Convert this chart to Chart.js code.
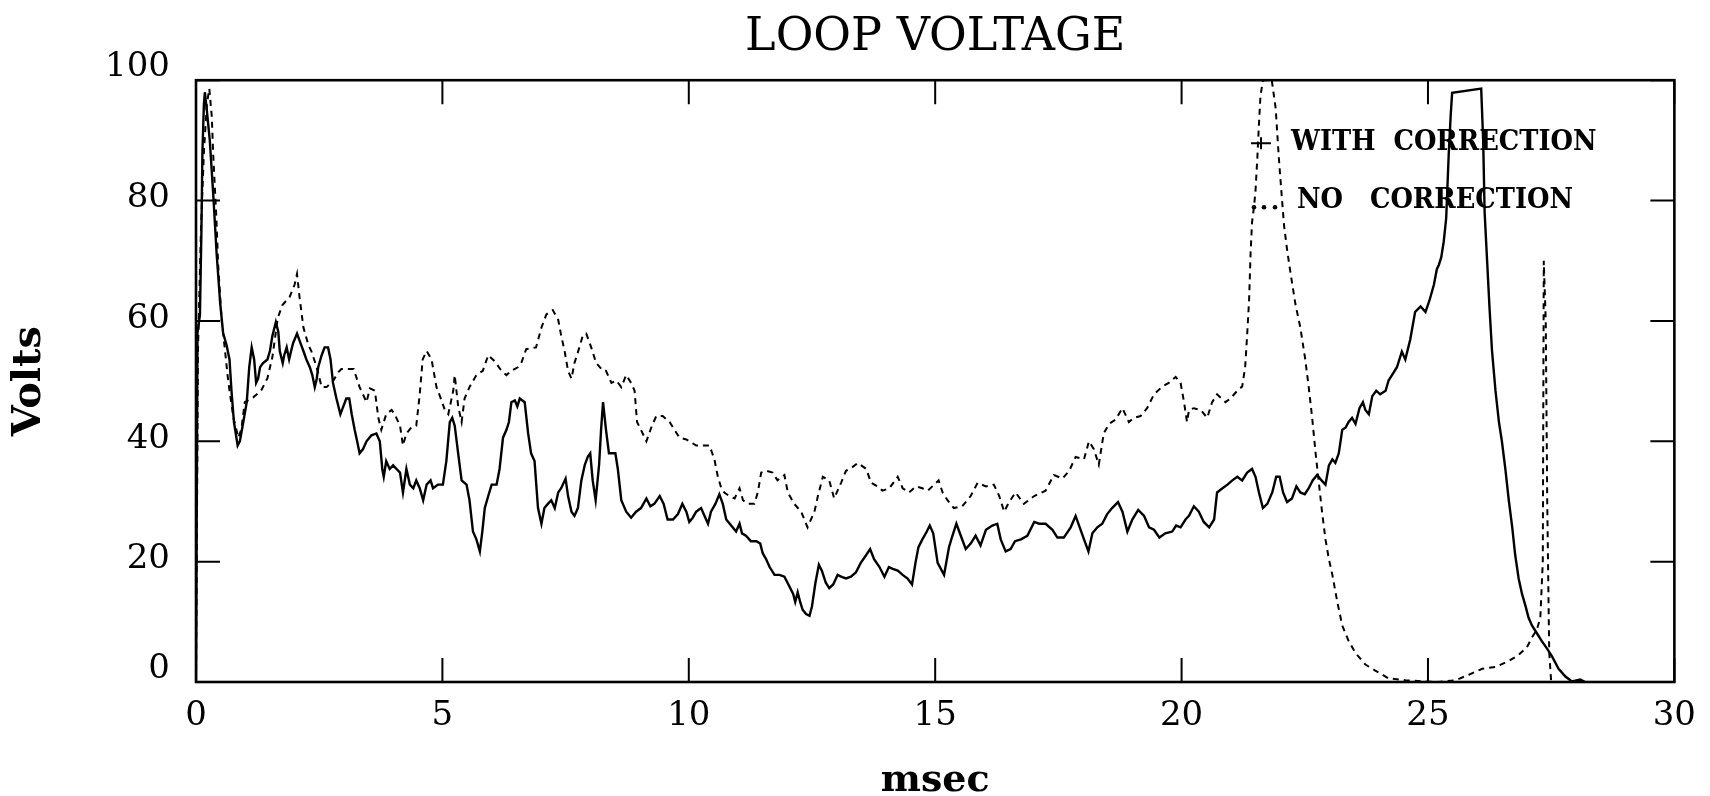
<!DOCTYPE html>
<html>
<head>
<meta charset="utf-8">
<script src="https://cdn.jsdelivr.net/npm/chart.js@4.4.1/dist/chart.umd.min.js"></script>
<style>
  html, body { margin: 0; padding: 0; background: #fff; }
  #wrap { width: 1710px; height: 796px; }
</style>
</head>
<body>
<div id="wrap"><canvas id="c" width="1710" height="796"></canvas></div>
<script>
// ---------- DATA ----------
const xTicks = [0, 5, 10, 15, 20, 25, 30];
const yTicks = [0, 20, 40, 60, 80, 100];
const seriesLabels = ['WITH  CORRECTION', 'NO   CORRECTION'];

// WITH CORRECTION (solid line): time in msec, loop voltage in volts
const withT = [0.00,0.03,0.08,0.11,0.13,0.16,0.18,0.22,0.28,0.35,0.42,0.49,0.55,0.62,0.68,0.72,0.77,0.845,0.89,0.96,
1.03,1.08,1.13,1.18,1.22,1.26,1.30,1.36,1.45,1.50,1.55,1.62,1.67,1.70,1.76,1.79,1.84,1.89,1.93,1.97,
2.05,2.12,2.18,2.24,2.31,2.36,2.41,2.45,2.48,2.55,2.61,2.68,2.73,2.78,2.85,2.93,2.99,3.05,3.11,3.16,
3.22,3.27,3.32,3.39,3.46,3.56,3.66,3.73,3.78,3.81,3.86,3.93,4.00,4.07,4.14,4.20,4.27,4.34,4.41,4.47,
4.54,4.61,4.68,4.76,4.81,4.91,5.01,5.08,5.15,5.20,5.25,5.32,5.39,5.49,5.55,5.62,5.69,5.76,5.81,5.86,
5.93,6.00,6.10,6.16,6.23,6.30,6.35,6.40,6.47,6.52,6.57,6.67,6.74,6.80,6.87,6.94,7.01,7.07,7.14,7.21,
7.28,7.35,7.41,7.50,7.55,7.62,7.68,7.75,7.82,7.89,7.95,8.00,8.05,8.11,8.18,8.22,8.26,8.32,8.38,8.46,
8.51,8.56,8.63,8.73,8.83,8.93,9.03,9.14,9.22,9.30,9.41,9.49,9.57,9.68,9.78,9.87,9.95,10.01,10.08,10.15,
10.25,10.32,10.39,10.45,10.54,10.62,10.69,10.76,10.86,10.96,11.03,11.08,11.16,11.26,11.37,11.45,11.50,11.57,11.64,11.74,
11.84,11.94,12.04,12.12,12.16,12.21,12.26,12.31,12.38,12.45,12.50,12.57,12.64,12.70,12.78,12.85,12.93,13.02,13.09,13.19,
13.29,13.39,13.49,13.60,13.68,13.76,13.87,13.97,14.06,14.14,14.24,14.34,14.44,14.53,14.60,14.66,14.74,14.83,14.89,14.96,
15.05,15.18,15.28,15.35,15.43,15.52,15.62,15.72,15.82,15.92,16.03,16.16,16.26,16.33,16.43,16.53,16.62,16.74,16.87,17.01,
17.11,17.24,17.38,17.48,17.61,17.75,17.85,17.92,18.02,18.11,18.19,18.29,18.39,18.49,18.59,18.71,18.80,18.90,19.00,19.12,
19.24,19.34,19.44,19.55,19.67,19.81,19.89,19.98,20.08,20.15,20.25,20.35,20.45,20.56,20.66,20.72,20.83,20.93,21.03,21.13,
21.23,21.33,21.43,21.50,21.57,21.65,21.74,21.84,21.92,21.99,22.06,22.14,22.24,22.33,22.41,22.50,22.58,22.66,22.75,22.84,
22.92,22.99,23.06,23.12,23.19,23.26,23.33,23.39,23.46,23.53,23.61,23.68,23.73,23.80,23.87,23.95,24.03,24.14,24.20,24.27,
24.37,24.47,24.54,24.64,24.74,24.85,24.95,25.03,25.12,25.18,25.22,25.27,25.32,25.37,25.42,25.46,25.49,26.08,26.12,26.15,
26.20,26.25,26.30,26.37,26.44,26.50,26.57,26.64,26.71,26.77,26.84,26.91,26.98,27.04,27.11,27.21,27.31,27.42,27.52,27.65,
27.79,27.92,28.09,28.19];
const withV = [0,58,61,75,88,96,98,95,90,81,71,63,58,56,53.6,48.4,43.2,39.3,40,43.2,
46.5,52.3,55.6,53.6,49.7,50.4,52.3,53,53.6,55,57.5,59.8,58.2,55,53,54.3,55.6,53.6,55,56.3,
57.9,56.3,55,53.6,52.3,51,49,50.4,52.3,54.3,55.6,55.6,53.6,49.7,47.1,44.5,45.8,47.1,47.1,44.5,
41.9,40,38,38.7,40,41,41.3,40,35.4,34.1,36.7,35.4,36,35.4,34.8,31.5,35.4,32.8,32.2,33.5,
32.2,30.2,32.8,33.5,32.2,32.8,32.8,36.7,43.2,43.9,42.6,38,33.5,32.8,30.2,25,23.7,21.7,25,28.9,
30.9,32.8,32.8,35.4,40.6,41.9,43.2,46.5,46.8,45.8,47.1,46.5,41.3,38,36.7,28.9,26.3,28.9,29.6,30.2,
28.9,31.5,32.2,33.8,30.9,28.3,27.6,28.9,33.5,36.1,37.4,38,33.5,30.2,36.1,41.9,46.5,41.9,38,38,
38,35.4,30.2,28.3,27.3,28.3,28.9,30.5,29.2,29.6,30.9,29.6,27,27,27.9,29.6,28.3,26.6,27.3,28.3,
28.9,27.6,26.3,28.3,29.6,31.2,29.6,27,26,25,26.3,24.7,24.3,23.4,23.4,23,21.4,20.4,19.1,17.8,
17.8,17.5,15.9,14.6,13.3,14.9,13.3,12,11.3,11,12.6,16.5,19.5,18.5,16.5,15.6,16.2,17.8,17.5,17.2,
17.5,18.2,19.8,21.1,22.1,20.4,19.1,17.5,19.1,18.8,18.5,17.8,17.2,16.2,19.8,22.4,23.7,25,26,24.7,
19.8,17.8,22.4,24.3,26.3,24.3,22.1,23,24.3,22.7,25.3,26,26.3,23.7,21.7,22.1,23.4,23.7,24.3,26.6,
26.3,26.3,25.3,24,24,25.7,27.6,26,23.7,21.7,24.7,25.7,26.3,27.9,28.9,29.9,28.3,25,27,28.6,
27.6,25.7,25.3,24,24.7,25,26,25.7,27,27.6,29.2,28.3,26.6,25.7,27,31.5,32.2,32.8,33.5,34.1,
33.5,34.8,35.4,34.1,31.5,28.9,29.6,31.5,34.1,34.1,31.5,29.9,30.5,32.5,31.5,31.2,32.2,33.5,34.4,33.5,
32.8,36,37,36.4,38,41.9,42.3,43.2,43.9,42.9,45.5,46.5,45.2,44.5,47.5,48.4,47.8,48.4,50.1,51,
52.3,54.9,53.6,56.9,61.5,62.4,61.5,63.4,66,68.6,69.3,70.6,73.2,77.1,87.5,94,97.9,98.6,90,78,
70,62,55,48.4,43.2,40,35.4,30.2,25.7,21.1,17.2,14.6,12.6,10.7,9.4,8.1,6.8,5.5,4.2,2.2,
0.9,0.1,0.4,0];

// NO CORRECTION (dashed line)
const noT = [0.00,0.04,0.10,0.16,0.22,0.27,0.32,0.35,0.41,0.45,0.52,0.59,0.64,0.68,0.76,0.86,0.92,0.99,1.16,1.32,
1.45,1.55,1.66,1.75,1.90,2.00,2.05,2.10,2.18,2.28,2.34,2.45,2.55,2.65,2.78,2.89,2.95,3.20,3.32,3.46,
3.53,3.63,3.70,3.76,3.86,3.97,4.03,4.14,4.20,4.27,4.37,4.47,4.54,4.60,4.68,4.78,4.88,4.95,5.05,5.12,
5.22,5.25,5.32,5.39,5.45,5.55,5.69,5.82,5.93,6.06,6.20,6.30,6.40,6.53,6.60,6.70,6.90,7.01,7.11,7.24,
7.35,7.41,7.48,7.55,7.62,7.68,7.78,7.85,7.92,8.02,8.12,8.26,8.32,8.43,8.53,8.63,8.73,8.83,8.90,8.95,
9.03,9.14,9.24,9.34,9.47,9.61,9.71,9.81,9.95,10.15,10.42,10.52,10.59,10.66,10.72,10.82,10.93,11.03,11.10,11.20,
11.33,11.40,11.47,11.57,11.70,11.80,11.94,12.01,12.14,12.28,12.41,12.55,12.62,12.72,12.85,12.95,13.09,13.19,13.32,13.43,
13.60,13.70,13.83,13.93,14.07,14.24,14.34,14.47,14.61,14.74,14.85,14.98,15.07,15.15,15.25,15.38,15.55,15.72,15.86,16.03,
16.19,16.30,16.40,16.50,16.63,16.80,17.01,17.24,17.41,17.58,17.72,17.85,18.02,18.12,18.22,18.32,18.42,18.53,18.66,18.80,
18.93,19.03,19.17,19.30,19.44,19.61,19.74,19.88,19.98,20.05,20.11,20.15,20.25,20.39,20.52,20.62,20.72,20.89,20.99,21.13,
21.23,21.29,21.33,21.37,21.40,21.43,21.47,21.50,21.54,21.57,21.60,21.65,21.83,21.91,21.97,22.03,22.08,22.14,22.21,22.31,
22.41,22.51,22.58,22.65,22.72,22.79,22.85,22.92,22.99,23.06,23.16,23.26,23.39,23.53,23.73,23.93,24.20,24.54,24.88,25.22,
25.56,25.83,26.10,26.37,26.64,26.84,27.01,27.11,27.21,27.28,27.33,27.35,27.39,27.42,27.46,27.50];
const noV = [0,55,75,88,96,98.6,94,87.5,77.7,69.3,60.2,55,51,48.4,43.9,40.6,42,46.5,47.3,48.4,
50.5,54,60.5,62.6,64,66,67.8,64,58.9,56,55,52.3,49,49,50,51.5,52,52,49,46.5,
48.8,48.4,43.9,41.9,44.5,45.2,44.5,42.6,39.3,41.3,42.3,42.6,47.8,53.6,55,53.6,49,47.5,45.2,44.5,
48.4,51,45.8,43.2,47.1,49,51,51.7,54.3,53.3,51.7,51,51.7,52.3,53,55.3,55.6,58.9,61.1,61.8,
60.2,57.6,55,51.7,50.4,53,55.6,57.6,57.9,55.6,53,51.7,51.7,49.7,50.1,49,51,49.7,48.4,43.2,
41.9,40,42.3,44.2,44.2,43.2,41.9,40.6,40.3,39.3,39.3,37,34.1,32.2,31.5,30.9,30.5,32.2,30.2,29.6,
29.6,31.5,34.8,35.1,34.8,33.5,34.4,31.5,29.6,28.3,25.7,28.3,30.9,34.1,33.5,30.5,33.1,35.1,35.7,36.4,
35.4,33.1,32.5,31.8,32.2,34.1,32.2,31.5,32.5,32.2,31.8,32.8,33.5,31.5,30.2,28.9,29.2,30.9,33.1,32.5,
32.8,30.9,28.3,29.9,31.5,29.6,30.9,31.8,34.4,33.8,35.1,37.4,37,40,38.7,36.1,41.3,42.9,43.6,45.5,
43.2,43.9,44.2,45.5,47.8,49.1,49.7,50.7,49.7,46.5,43.2,45.2,45.5,45.2,43.9,46.5,47.8,46.5,47.1,48.4,
49.1,52.3,57.6,63.4,71.2,76.4,79,81.6,87.5,92.7,97.3,100,100,95.3,87.5,81,75.8,71.9,68,62.8,
58.9,53.6,49,43.9,38,32.8,28.3,23.7,20.4,17.8,13.3,9.4,6.8,4.8,2.9,1.9,0.6,0.3,0.1,0,
0.3,1.2,2.2,2.5,3.5,4.5,5.8,7.4,8.7,10.7,20,70,60,30,5,0];

// ---------- CHART ----------
const toPts = (ts, vs) => ts.map((t, i) => ({ x: t, y: vs[i] }));

const frameTicks = {
  id: 'frameTicks',
  afterDatasetsDraw(chart) {
    const { ctx, chartArea: a, scales } = chart;
    const len = 24;
    ctx.save();
    ctx.strokeStyle = '#000';
    ctx.lineWidth = 2;
    xTicks.forEach(v => {
      const px = scales.x.getPixelForValue(v);
      ctx.beginPath();
      ctx.moveTo(px, a.bottom); ctx.lineTo(px, a.bottom - len);
      ctx.moveTo(px, a.top); ctx.lineTo(px, a.top + len);
      ctx.stroke();
    });
    yTicks.forEach(v => {
      const py = scales.y.getPixelForValue(v);
      ctx.beginPath();
      ctx.moveTo(a.left, py); ctx.lineTo(a.left + len, py);
      ctx.moveTo(a.right, py); ctx.lineTo(a.right - len, py);
      ctx.stroke();
    });
    ctx.lineWidth = 2.6;
    ctx.strokeRect(a.left, a.top, a.right - a.left, a.bottom - a.top);
    ctx.restore();
  }
};

// y tick labels: centred on inner ticks, end labels lifted (as in the original plot)
const yTickLabels = {
  id: 'yTickLabels',
  afterDraw(chart) {
    const { ctx, scales } = chart;
    const y = scales.y;
    ctx.save();
    ctx.fillStyle = '#000';
    ctx.font = '34px "DejaVu Serif"';
    ctx.textAlign = 'right';
    ctx.textBaseline = 'middle';
    yTicks.forEach(v => {
      const py = y.getPixelForValue(v);
      const off = (v === y.min || v === y.max) ? -13 : -2;
      ctx.fillText(String(v), y.right - 26, py + off);
    });
    ctx.restore();
  }
};

const insideLegend = {
  id: 'insideLegend',
  afterDatasetsDraw(chart) {
    const { ctx, chartArea: a } = chart;
    const ds = chart.data.datasets;
    ctx.save();
    ctx.fillStyle = '#000';
    ctx.strokeStyle = '#000';
    const x1 = a.left + 1065, y1 = a.top + 63, y2 = a.top + 121;
    // entry 1 : "+" symbol
    ctx.lineWidth = 2;
    ctx.beginPath();
    ctx.moveTo(x1 - 10, y1); ctx.lineTo(x1 + 10, y1);
    ctx.moveTo(x1, y1 - 6); ctx.lineTo(x1, y1 + 6);
    ctx.stroke();
    // entry 2 : dotted symbol
    [-7, 3, 14].forEach(dx => {
      ctx.beginPath();
      ctx.arc(x1 + dx, y2 + 6, 2.3, 0, Math.PI * 2);
      ctx.fill();
    });
    // labels (slightly condensed serif, like the original lettering)
    ctx.font = 'bold 28px "DejaVu Serif"';
    ctx.textBaseline = 'middle';
    ctx.textAlign = 'left';
    const sx = 0.92;
    ctx.save();
    ctx.translate(x1 + 30, y1);
    ctx.scale(sx, 1);
    ctx.fillText(ds[0].label, 0, 0);
    ctx.restore();
    ctx.save();
    ctx.translate(x1 + 36, y2);
    ctx.scale(sx, 1);
    ctx.fillText(ds[1].label, 0, 0);
    ctx.restore();
    ctx.restore();
  }
};

new Chart(document.getElementById('c'), {
  type: 'scatter',
  data: {
    datasets: [
      {
        label: seriesLabels[0],
        data: toPts(withT, withV),
        showLine: true,
        borderColor: '#000',
        borderWidth: 2.4,
        pointRadius: 0,
        tension: 0,
        fill: false
      },
      {
        label: seriesLabels[1],
        data: toPts(noT, noV),
        showLine: true,
        borderColor: '#000',
        borderWidth: 2,
        borderDash: [6, 5],
        pointRadius: 0,
        tension: 0,
        fill: false
      }
    ]
  },
  options: {
    responsive: false,
    animation: false,
    devicePixelRatio: 1,
    layout: { padding: { left: 0, right: 34, top: 0, bottom: 0 } },
    plugins: {
      legend: { display: false },
      tooltip: { enabled: false },
      title: {
        display: true,
        text: 'LOOP VOLTAGE',
        fullSize: false,
        color: '#000',
        font: { family: 'DejaVu Serif', size: 46, weight: 'normal', lineHeight: 1.2 },
        padding: { top: 10, bottom: 15 }
      }
    },
    scales: {
      x: {
        type: 'linear',
        position: 'bottom',
        min: 0, max: 30,
        afterBuildTicks: s => { s.ticks = xTicks.map(v => ({ value: v })); },
        afterFit: s => { s.height = 114; },
        grid: { display: false, drawTicks: false },
        border: { display: false },
        ticks: {
          color: '#000',
          padding: 14,
          maxRotation: 0,
          autoSkip: false,
          font: { family: 'DejaVu Serif', size: 34 }
        },
        title: {
          display: true,
          text: 'msec',
          color: '#000',
          font: { family: 'DejaVu Serif', size: 38, weight: 'bold', lineHeight: 0.8 },
          padding: { top: 0, bottom: 0 }
        }
      },
      y: {
        type: 'linear',
        min: 0, max: 100,
        afterBuildTicks: s => { s.ticks = yTicks.map(v => ({ value: v })); },
        afterFit: s => { s.width = 196; },
        grid: { display: false, drawTicks: false },
        border: { display: false },
        ticks: { display: false },
        title: {
          display: true,
          text: 'Volts',
          color: '#000',
          font: { family: 'DejaVu Serif', size: 40, weight: 'bold', lineHeight: 1 },
          padding: { top: 10, bottom: 0 }
        }
      }
    }
  },
  plugins: [frameTicks, yTickLabels, insideLegend]
});
</script>
</body>
</html>
